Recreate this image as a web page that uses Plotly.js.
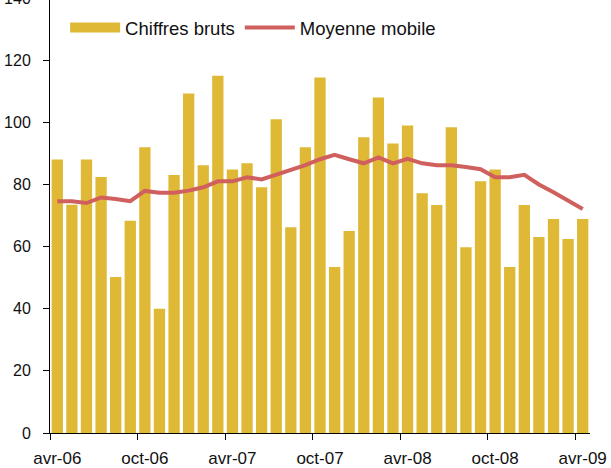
<!DOCTYPE html>
<html>
<head>
<meta charset="utf-8">
<script src="https://cdn.plot.ly/plotly-3.0.1.min.js"></script>
<style>
  html, body { margin: 0; padding: 0; background: #fff; overflow: hidden; }
  #chart { width: 611px; height: 480px; margin-top: -12px; }
</style>
</head>
<body>
<div id="chart"></div>
<script>
// Months (avr-06 .. avr-09)
const months = [
  "avr-06","mai-06","juin-06","juil-06","août-06","sept-06","oct-06","nov-06","déc-06",
  "janv-07","févr-07","mars-07","avr-07","mai-07","juin-07","juil-07","août-07","sept-07",
  "oct-07","nov-07","déc-07","janv-08","févr-08","mars-08","avr-08","mai-08","juin-08",
  "juil-08","août-08","sept-08","oct-08","nov-08","déc-08","janv-09","févr-09","mars-09","avr-09"
];
// Raw figures (bars)
const chiffresBruts = [
  88, 73.5, 88, 82.4, 50.2, 68.3, 92, 40, 83, 109.3, 86.2, 115, 84.8, 86.8, 79.1, 101,
  66.2, 92, 114.4, 53.4, 65, 95.2, 108, 93.2, 99, 77.2, 73.4, 98.4, 59.8, 81, 84.8,
  53.4, 73.4, 63.1, 68.9, 62.4, 68.9
];
// Moving average (line)
const moyenneMobile = [
  74.6, 74.6, 74.0, 75.8, 75.3, 74.6, 77.9, 77.3, 77.3, 78.0, 79.1, 81.0, 81.0, 82.3,
  81.6, 83.2, 84.5, 86.2, 88.1, 89.5, 88.1, 86.8, 88.7, 86.8, 88.2, 86.8, 86.2, 86.2,
  85.6, 84.9, 82.3, 82.3, 83.1, 80.0, 77.5, 74.8, 72.1
];
// Labelled months on the x axis
const tickMonths = ["avr-06","oct-06","avr-07","oct-07","avr-08","oct-08","avr-09"];
const seriesNames = ["Chiffres bruts", "Moyenne mobile"];

const barColor = "#DFB935";
const lineColor = "#D0605E";

const tickIdx = tickMonths.map(m => months.indexOf(m));
const boundaryTicks = tickIdx.map(i => i - 0.5);

const traces = [
  {
    type: "bar",
    x: months,
    y: chiffresBruts,
    marker: { color: barColor, line: { width: 0 } },
    showlegend: false,
    name: seriesNames[0],
    hoverinfo: "x+y"
  },
  {
    // legend entry for the bars (wide swatch)
    type: "scatter",
    mode: "lines",
    x: [null], y: [null],
    xaxis: "x2",
    line: { color: barColor, width: 13 },
    name: seriesNames[0],
    hoverinfo: "skip"
  },
  {
    type: "scatter",
    mode: "lines",
    x: months,
    y: moyenneMobile,
    line: { color: lineColor, width: 4 },
    name: seriesNames[1]
  }
];

const font = "Arial, 'Liberation Sans', sans-serif";

const layout = {
  width: 611,
  height: 480,
  margin: { l: 50, r: 21, t: 10, b: 35, pad: 0 },
  paper_bgcolor: "#fff",
  plot_bgcolor: "#fff",
  font: { family: font, color: "#111", size: 16 },
  bargap: 0.225,
  showlegend: true,
  legend: {
    orientation: "h",
    x: 0.028, xanchor: "left",
    y: 0.975, yanchor: "top",
    bgcolor: "rgba(0,0,0,0)",
    font: { family: font, size: 18.5, color: "#111" },
    itemwidth: 50,
    traceorder: "normal"
  },
  xaxis: {
    type: "category",
    range: [-0.5, months.length - 0.5],
    tickmode: "array",
    tickvals: tickMonths,
    ticktext: tickMonths,
    ticks: "",
    showline: true,
    linecolor: "#000",
    linewidth: 1,
    showgrid: false,
    zeroline: false,
    tickfont: { family: font, size: 17, color: "#111" },
    ticklabelstandoff: 10,
    fixedrange: true
  },
  xaxis2: {
    type: "linear",
    overlaying: "x",
    anchor: "y",
    side: "bottom",
    range: [-0.5, months.length - 0.5],
    tickmode: "array",
    tickvals: boundaryTicks,
    ticks: "outside",
    ticklen: 6,
    tickwidth: 1,
    tickcolor: "#000",
    showticklabels: false,
    showline: false,
    showgrid: false,
    zeroline: false,
    fixedrange: true
  },
  yaxis: {
    range: [0, 140],
    tickmode: "linear",
    tick0: 0,
    dtick: 20,
    ticks: "outside",
    ticklen: 6,
    tickwidth: 1,
    tickcolor: "#000",
    showline: true,
    linecolor: "#000",
    linewidth: 1,
    showgrid: false,
    zeroline: false,
    tickfont: { family: font, size: 16, color: "#111" },
    ticklabelstandoff: 9,
    fixedrange: true
  }
};

Plotly.newPlot("chart", traces, layout, { displayModeBar: false, staticPlot: true });
</script>
</body>
</html>
